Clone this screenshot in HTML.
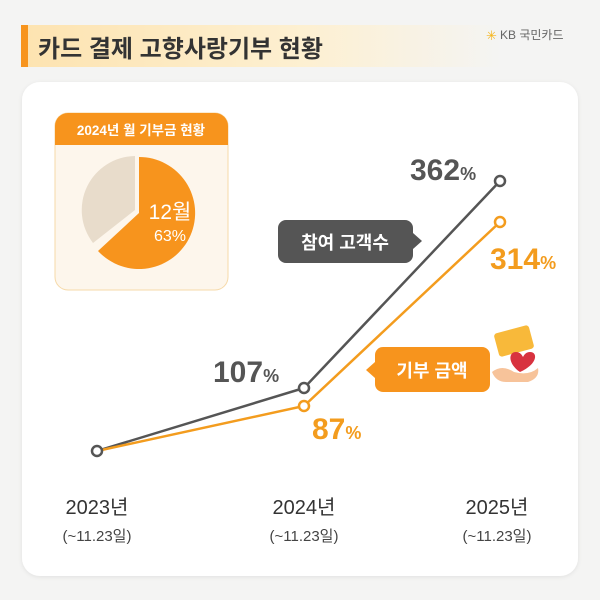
<!DOCTYPE html>
<html><head><meta charset="utf-8"><style>
html,body{margin:0;padding:0;background:#f4f4f3;}
svg{display:block;font-family:"Liberation Sans","Noto Sans CJK KR",sans-serif;}
</style></head><body>
<svg width="600" height="600" viewBox="0 0 600 600">
<defs>
<linearGradient id="tg" x1="0" x2="1" y1="0" y2="0">
<stop offset="0" stop-color="#fde3b0"/><stop offset="0.6" stop-color="#fdf0d2"/><stop offset="1" stop-color="#f4f4f3"/>
</linearGradient>
<filter id="sh" x="-5%" y="-5%" width="110%" height="110%"><feDropShadow dx="0" dy="1" stdDeviation="2" flood-color="#000" flood-opacity="0.08"/></filter>
</defs>
<rect width="600" height="600" fill="#f4f4f3"/>
<rect x="21" y="25" width="480" height="42" fill="url(#tg)"/>
<rect x="21" y="25" width="7" height="42" fill="#f7941d"/>
<text x="38" y="57" font-size="24" font-weight="bold" fill="#333">카드 결제 고향사랑기부 현황</text>
<text x="486" y="40" font-size="13" fill="#f5b51c">✳</text>
<text x="500" y="39" font-size="12" fill="#666">KB 국민카드</text>
<rect x="22" y="82" width="556" height="494" rx="18" fill="#fff" filter="url(#sh)"/>
<!-- pie box -->
<rect x="55" y="113" width="173" height="177" rx="13" fill="#fdf6ec" stroke="#f6d9a8" stroke-width="1"/>
<path d="M55 145 V126 a13 13 0 0 1 13 -13 H215 a13 13 0 0 1 13 13 V145 Z" fill="#f7941d"/>
<text x="141" y="135" font-size="13.5" font-weight="bold" fill="#fff" text-anchor="middle">2024년 월 기부금 현황</text>
<path d="M135 210 L135 156 A54 54 0 0 0 93 243 Z" fill="#e8dccb"/>
<path d="M139 213 L139 157 A56 56 0 1 1 98 251 Z" fill="#f7941d"/>
<text x="170" y="219" font-size="21" fill="#fff" text-anchor="middle">12월</text>
<text x="170" y="241" font-size="16" fill="#fff" text-anchor="middle">63%</text>
<!-- lines -->
<polyline points="97,451 304,388 500,181" fill="none" stroke="#555" stroke-width="2.5"/>
<polyline points="97,451 304,406 500,222" fill="none" stroke="#f39c1e" stroke-width="2.5"/>
<circle cx="97" cy="451" r="5" fill="#fff" stroke="#555" stroke-width="2.5"/>
<circle cx="304" cy="388" r="5" fill="#fff" stroke="#555" stroke-width="2.5"/>
<circle cx="500" cy="181" r="5" fill="#fff" stroke="#555" stroke-width="2.5"/>
<circle cx="304" cy="406" r="5" fill="#fff" stroke="#f39c1e" stroke-width="2.5"/>
<circle cx="500" cy="222" r="5" fill="#fff" stroke="#f39c1e" stroke-width="2.5"/>
<!-- value labels -->
<text x="410" y="180" font-size="30" font-weight="bold" fill="#555">362<tspan font-size="18">%</tspan></text>
<text x="490" y="269" font-size="30" font-weight="bold" fill="#f39c1e">314<tspan font-size="18">%</tspan></text>
<text x="213" y="382" font-size="30" font-weight="bold" fill="#555">107<tspan font-size="18">%</tspan></text>
<text x="312" y="439" font-size="30" font-weight="bold" fill="#f39c1e">87<tspan font-size="18">%</tspan></text>
<!-- bubbles -->
<rect x="278" y="220" width="135" height="43" rx="8" fill="#555"/>
<path d="M413 233 L422 241 L413 249 Z" fill="#555"/>
<text x="345" y="249" font-size="18" font-weight="bold" fill="#fff" text-anchor="middle">참여 고객수</text>
<rect x="375" y="347" width="115" height="45" rx="8" fill="#f7941d"/>
<path d="M375 362 L366 370 L375 378 Z" fill="#f7941d"/>
<text x="432" y="377" font-size="18" font-weight="bold" fill="#fff" text-anchor="middle">기부 금액</text>
<!-- icon -->
<rect x="496" y="329" width="36" height="24" rx="3" fill="#f8b93a" transform="rotate(-15 514 341)"/>
<path d="M492 372 q10 -8 22 0 q15 4 24 -4 q2 10 -10 14 h-22 q-10 0 -14 -10z" fill="#f7c39a"/>
<path d="M520 372 c-12 -8 -12 -20 -4 -20 c4 0 6 3 7 5 c1 -2 3 -5 7 -5 c8 0 8 12 -10 20z" fill="#d8323f"/>
<!-- x labels -->
<g font-size="20" fill="#333" text-anchor="middle">
<text x="97" y="514">2023년</text><text x="304" y="514">2024년</text><text x="497" y="514">2025년</text>
</g>
<g font-size="15" fill="#444" text-anchor="middle">
<text x="97" y="541">(~11.23일)</text><text x="304" y="541">(~11.23일)</text><text x="497" y="541">(~11.23일)</text>
</g>
</svg>
</body></html>
